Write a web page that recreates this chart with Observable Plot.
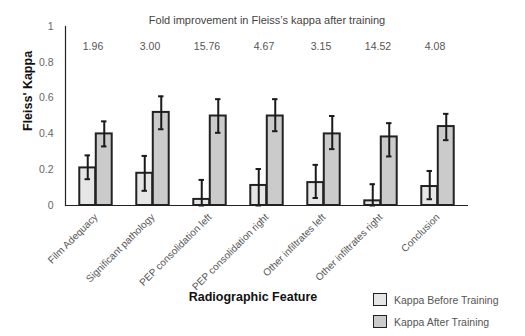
<!DOCTYPE html>
<html>
<head>
<meta charset="utf-8">
<script src="https://cdn.jsdelivr.net/npm/d3@7"></script>
<script src="https://cdn.jsdelivr.net/npm/@observablehq/plot@0.6"></script>
<style>
  html, body { margin: 0; padding: 0; background: #fff; }
  #wrap { position: relative; width: 525px; height: 336px; font-family: "Liberation Sans", Arial, sans-serif; }
  .leg { position: absolute; left: 373px; display: flex; align-items: center; font-size: 10.5px; color: #555; }
  .sw { width: 12px; height: 11px; border: 1.5px solid #222; margin-right: 7px; }
</style>
</head>
<body>
<div id="wrap"></div>
<script>
const features = ["Film Adequacy","Significant pathology","PEP consolidation left","PEP consolidation right","Other infiltrates left","Other infiltrates right","Conclusion"];
const before   = [0.21, 0.18, 0.034, 0.112, 0.128, 0.026, 0.106];
const beforeLo = [0.147, 0.082, 0, 0, 0.042, 0, 0.035];
const beforeHi = [0.28, 0.277, 0.143, 0.204, 0.227, 0.119, 0.193];
const after    = [0.40, 0.52, 0.50, 0.50, 0.40, 0.383, 0.441];
const afterLo  = [0.33, 0.426, 0.406, 0.415, 0.315, 0.274, 0.365];
const afterHi  = [0.47, 0.61, 0.594, 0.594, 0.50, 0.46, 0.512];
const fold     = ["1.96","3.00","15.76","4.67","3.15","14.52","4.08"];
const yTicks   = [0, 0.2, 0.4, 0.6, 0.8, 1];
const seriesNames = ["Kappa Before Training", "Kappa After Training"];
const colors = ["#e6e6e6", "#cbcbcb"];

const rows = features.map((f, i) => ({f, before: before[i], bLo: beforeLo[i], bHi: beforeHi[i], after: after[i], aLo: afterLo[i], aHi: afterHi[i], fold: fold[i]}));

const half = 57.57 / 2, bw = 16.5, off = bw / 2, cap = 3;

const chart = Plot.plot({
  width: 525, height: 336,
  marginLeft: 65, marginRight: 57, marginTop: 26, marginBottom: 131,
  style: {fontFamily: '"Liberation Sans", Arial, sans-serif', background: "#fff"},
  x: {domain: features, padding: 0, label: null},
  y: {domain: [0, 1], label: null},
  marks: [
    Plot.barY(rows, {x: "f", y: "before", fill: colors[0], stroke: "#222", strokeWidth: 2, insetLeft: half - bw, insetRight: half}),
    Plot.barY(rows, {x: "f", y: "after", fill: colors[1], stroke: "#222", strokeWidth: 2, insetLeft: half, insetRight: half - bw}),
    Plot.ruleX(rows, {x: "f", y1: "bLo", y2: "bHi", dx: -off, stroke: "#1a1a1a", strokeWidth: 2}),
    Plot.ruleX(rows, {x: "f", y1: "aLo", y2: "aHi", dx: off, stroke: "#1a1a1a", strokeWidth: 2}),
    Plot.tickY(rows, {x: "f", y: "bHi", dx: -off, insetLeft: half - cap, insetRight: half - cap, stroke: "#1a1a1a", strokeWidth: 2}),
    Plot.tickY(rows, {x: "f", y: "bLo", dx: -off, insetLeft: half - cap, insetRight: half - cap, stroke: "#1a1a1a", strokeWidth: 2}),
    Plot.tickY(rows, {x: "f", y: "aHi", dx: off, insetLeft: half - cap, insetRight: half - cap, stroke: "#1a1a1a", strokeWidth: 2}),
    Plot.tickY(rows, {x: "f", y: "aLo", dx: off, insetLeft: half - cap, insetRight: half - cap, stroke: "#1a1a1a", strokeWidth: 2}),
    Plot.ruleY([0], {stroke: "#222", strokeWidth: 1.2}),
    Plot.frame({anchor: "left", stroke: "#222", strokeWidth: 1.2}),
    Plot.axisY({ticks: yTicks, tickFormat: d => String(d), tickSize: 0, tickPadding: 12, fill: "#666", fontSize: 10.5, label: null}),
    Plot.axisX({tickRotate: -45, tickSize: 0, tickPadding: 10, fill: "#555", fontSize: 10, label: null}),
    Plot.text(rows, {x: "f", text: "fold", frameAnchor: "top", dy: 16, dx: -3, fill: "#555", fontSize: 10.5}),
    Plot.text(["Fold improvement in Fleiss\u2019s kappa after training"], {frameAnchor: "top", dy: -10, fill: "#444", fontSize: 11}),
    Plot.text(["Fleiss' Kappa"], {frameAnchor: "left", rotate: -90, dx: -38, dy: 15, fill: "#111", fontSize: 12.5, fontWeight: "bold"}),
    Plot.text(["Radiographic Feature"], {frameAnchor: "bottom", dy: 95, dx: -14, fill: "#111", fontSize: 12.5, fontWeight: "bold"})
  ]
});

const wrap = document.getElementById("wrap");
wrap.appendChild(chart);
seriesNames.forEach((name, i) => {
  const d = document.createElement("div");
  d.className = "leg";
  d.style.top = (293 + i * 22) + "px";
  d.innerHTML = `<div class="sw" style="background:${colors[i]}"></div><span>${name}</span>`;
  wrap.appendChild(d);
});
</script>
</body>
</html>
